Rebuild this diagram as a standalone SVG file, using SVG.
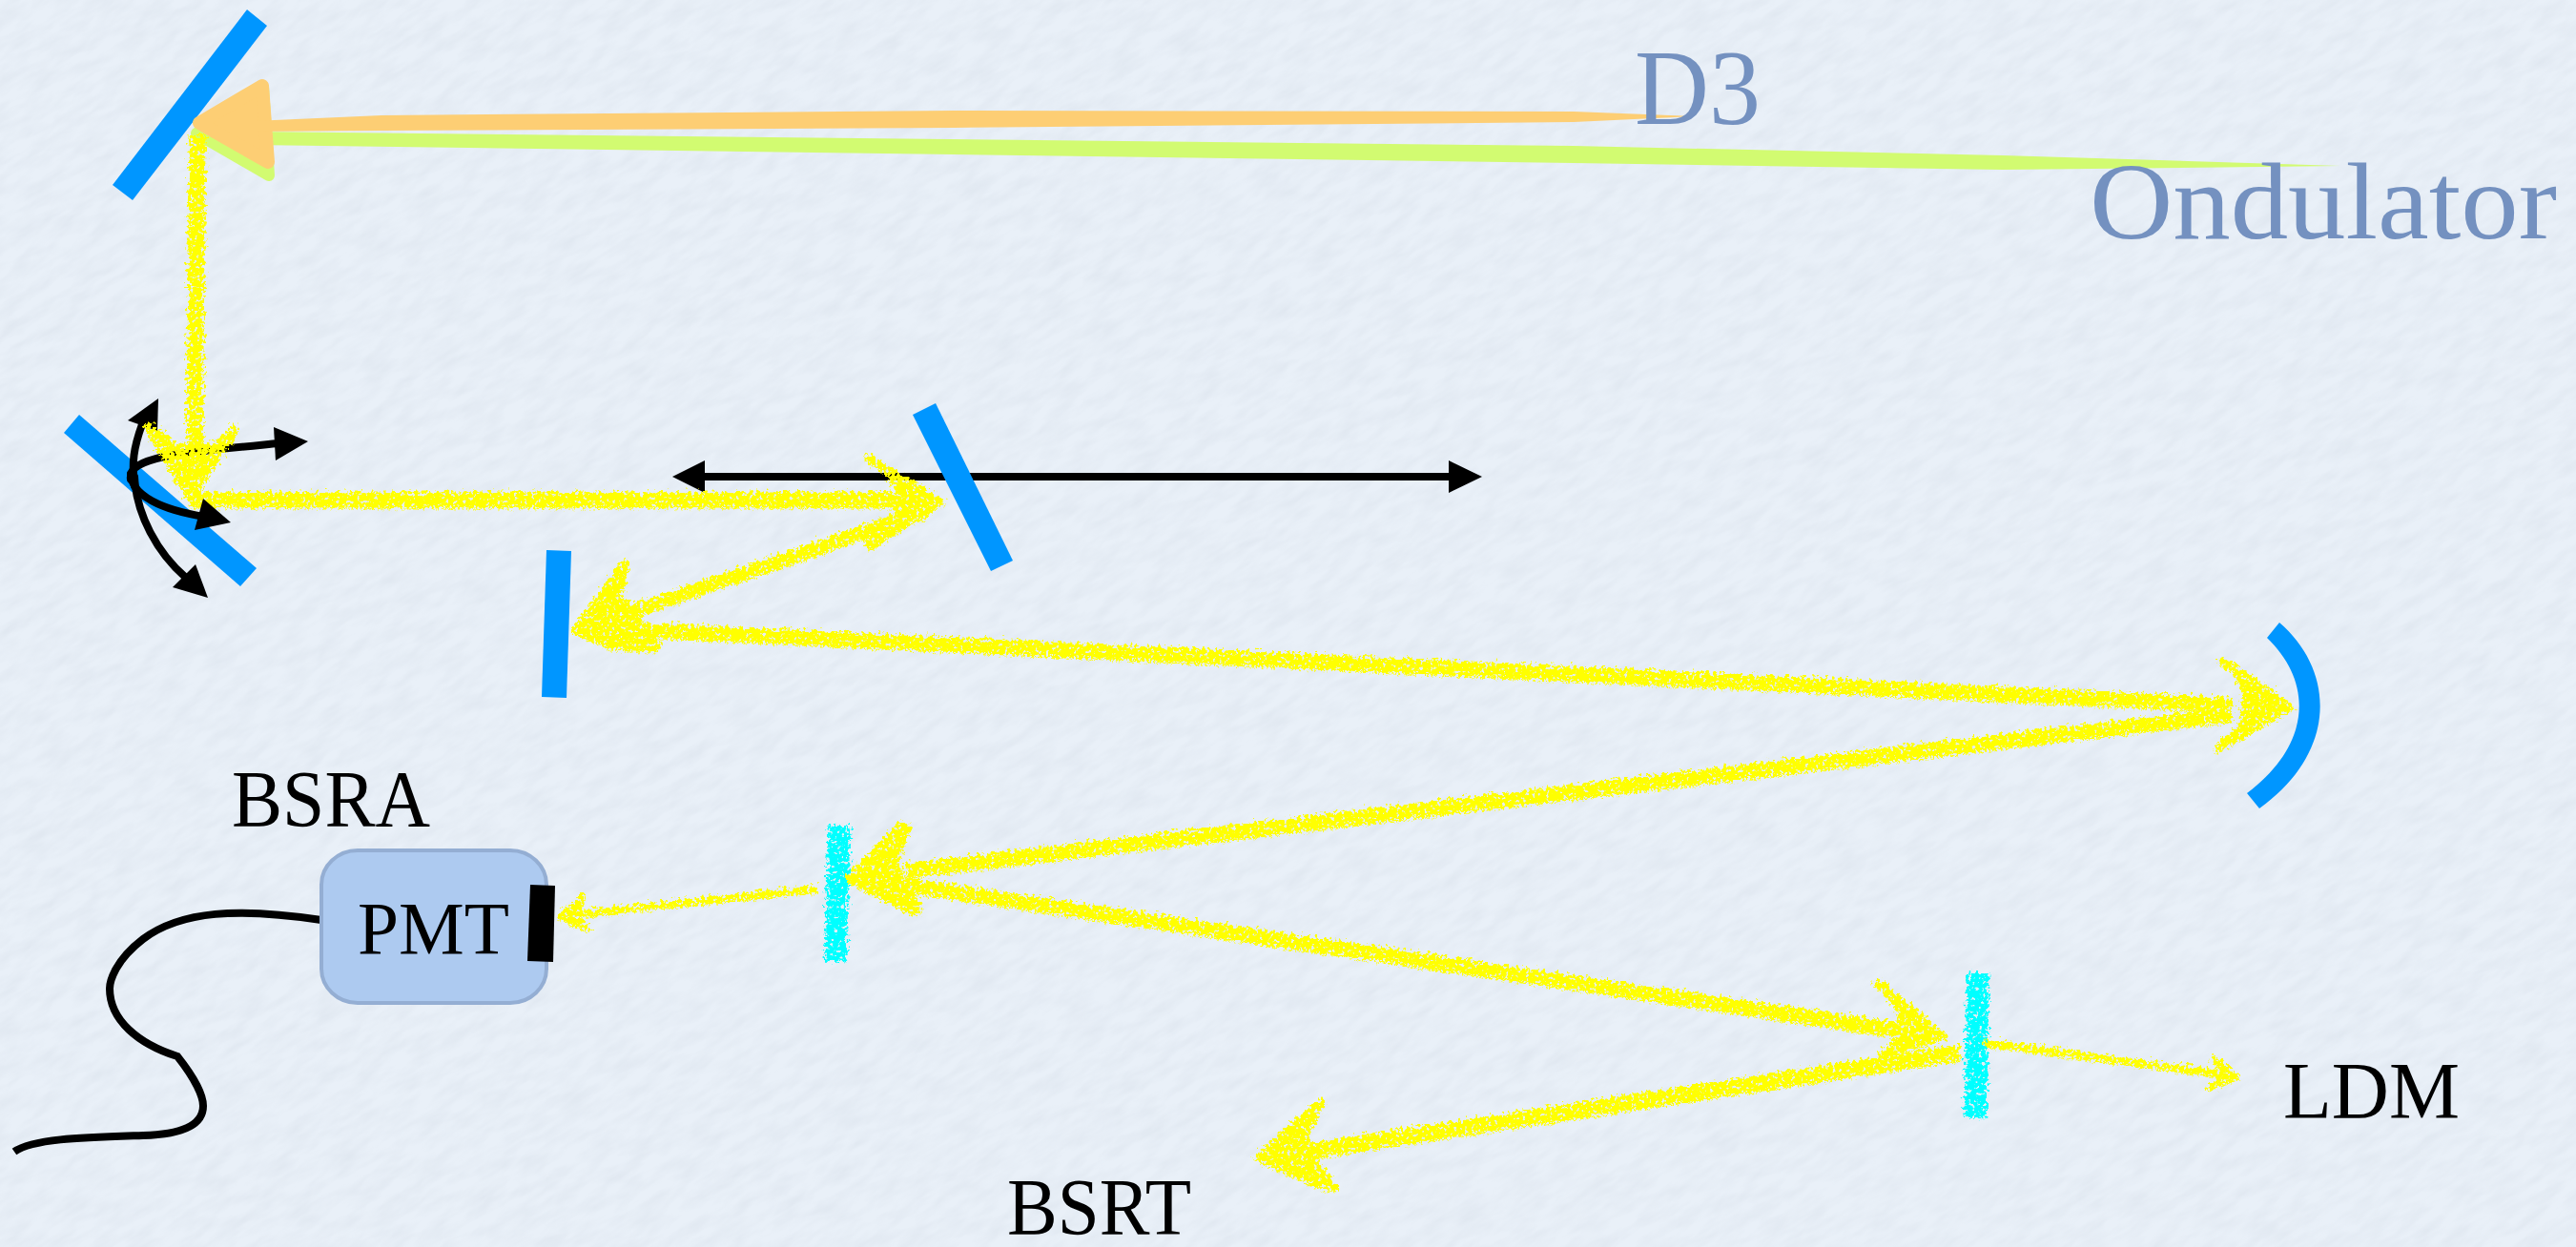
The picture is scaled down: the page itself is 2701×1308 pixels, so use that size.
<svg xmlns="http://www.w3.org/2000/svg" width="2701" height="1308" viewBox="0 0 2701 1308">
<style>
.mirror{fill:#0096ff}
.chalkcyan{stroke:#00ffff;stroke-width:23;fill:none}
.beam{stroke:#ffff00;fill:none;stroke-linecap:butt}
.head{fill:#ffff00;stroke:#ffff00;stroke-width:9;stroke-linejoin:round}
.headthin{fill:#ffff00;stroke:#ffff00;stroke-width:5;stroke-linejoin:round}
.blk{stroke:#000;stroke-width:8;fill:none;stroke-linecap:round}
.blkh{fill:#000}
.lab{font-family:"Liberation Serif","Times New Roman",serif;fill:#000}
.lab2{font-family:"Liberation Serif","Times New Roman",serif;fill:#7491c0}
</style>
<defs>
<filter id="paper" filterUnits="userSpaceOnUse" x="-800" y="-800" width="4400" height="3400" color-interpolation-filters="sRGB">
<feTurbulence type="fractalNoise" baseFrequency="0.03 0.09" numOctaves="3" seed="7"/>
<feColorMatrix type="matrix" values="0 0 0 0 0.62  0 0 0 0 0.66  0 0 0 0 0.72  1.6 0 0 0 -0.55"/>
</filter>
<filter id="chalk" filterUnits="userSpaceOnUse" x="0" y="0" width="2701" height="1308" color-interpolation-filters="sRGB">
<feTurbulence type="fractalNoise" baseFrequency="0.28" numOctaves="2" seed="4" result="n"/>
<feDisplacementMap in="SourceGraphic" in2="n" scale="15" xChannelSelector="R" yChannelSelector="G" result="d"/>
<feColorMatrix in="n" type="matrix" values="0 0 0 0 0  0 0 0 0 0  0 0 0 0 0  0 9 0 0 -2.6" result="m"/>
<feComposite in="d" in2="m" operator="in"/>
</filter>
</defs>
<g id="background">
<rect width="2701" height="1308" fill="#e9f0f8"/>
<g transform="rotate(-32 1350 654)"><rect x="-800" y="-800" width="4400" height="3400" fill="#000" filter="url(#paper)" opacity="0.12"/></g>
</g>
<g id="mirror-1"><polygon class="mirror" points="259,10 280,27 139,210 118,194"/></g>
<g id="mirror-2"><polygon class="mirror" points="83,435 67,454 252,615 269,596"/></g>
<g id="splitter-1" filter="url(#chalk)"><line class="chalkcyan" x1="880" y1="866" x2="876" y2="1009"/></g>
<g id="splitter-2" filter="url(#chalk)"><line class="chalkcyan" x1="2074" y1="1021" x2="2071" y2="1173"/></g>
<g id="connectors">
<polygon fill="#d2fb71" stroke="#d2fb71" stroke-width="12" stroke-linejoin="round" points="206,140 276,92 282,184"/>
<polygon fill="#d2fb71" points="265,138 1650,153 2100,163 2454,174 2100,178 1650,171 265,152"/>
<polygon fill="#fdce74" stroke="#fdce74" stroke-width="14" stroke-linejoin="round" points="209,129 275,90 281,170"/>
<polygon fill="#fdce74" points="265,127 400,121 1000,116 1650,117 1777,122 1650,128 1000,134 400,137 265,138"/>
<g id="double-arrow"><line x1="735" y1="500" x2="1522" y2="500" stroke="#000" stroke-width="8"/><polygon class="blkh" points="705,500 739,483 739,517"/><polygon class="blkh" points="1554,500 1519,483 1519,517"/></g>
<path class="blk" d="M141,510C138,485 140,470 149,445"/><polygon class="blkh" points="166,418 134,441 165,452"/>
<path class="blk" d="M137,503C135,490 150,484 172,479C195,474 240,470 292,465"/><polygon class="blkh" points="323,463 287,448 289,483"/>
<g filter="url(#chalk)">
<line class="beam" stroke-width="17" x1="207" y1="142" x2="204" y2="490"/>
<polygon class="head" points="200,522 156,449 170,458 183,470 226,470 234,462 246,451"/>
<line class="beam" stroke-width="17" x1="200" y1="525" x2="950" y2="525"/>
<polygon class="head" points="985,527 911,482 928,492 942,510 942,542 924,552 912,573"/>
<line class="beam" stroke-width="15" x1="970" y1="537" x2="640" y2="650"/>
<polygon class="head" points="604,662 655,592 651,612 648,632 672,640 664,665 688,676 686,680 645,678"/>
<line class="beam" stroke-width="16" x1="640" y1="660" x2="2340" y2="740"/>
<polygon class="head" points="2401,742 2330,694 2342,702 2356,725 2352,765 2338,775 2326,785"/>
<line class="beam" stroke-width="16" x1="2340" y1="750" x2="950" y2="914"/>
<polygon class="head" points="891,922 946,866 951,868 938,900 948,930 963,954 958,957"/>
<line class="beam" stroke-width="16" x1="950" y1="929" x2="1990" y2="1081"/>
<polygon class="head" points="2036,1087 1969,1032 1974,1034 1994,1062 1990,1095 1974,1106"/>
<line class="beam" stroke-width="17" x1="2055" y1="1105" x2="1360" y2="1210"/>
<polygon class="head" points="1320,1215 1384,1157 1374,1178 1366,1190 1378,1222 1399,1246 1392,1246"/>
<line class="beam" stroke-width="8" x1="2080" y1="1094" x2="2335" y2="1128"/>
<polygon class="headthin" points="2346,1130 2320,1109 2330,1126 2316,1143"/>
<line class="beam" stroke-width="8" x1="857" y1="933" x2="600" y2="960"/>
<polygon class="headthin" points="586,962 612,940 605,958 617,976"/>
</g>
<path class="blk" d="M137,497C138,520 170,535 215,542"/><polygon class="blkh" points="242,548 213,523 204,556"/>
<path class="blk" d="M141,500C143,540 165,580 195,606"/><polygon class="blkh" points="218,627 205,592 181,616"/>
<path d="M337,965C250,952 190,955 150,985C120,1008 115,1030 115,1037C115,1070 145,1095 186,1108C205,1132 213,1150 213,1160C213,1180 190,1190 150,1191C90,1193 35,1194 15,1208" fill="none" stroke="#000" stroke-width="8"/>
</g>
<g id="mirror-3"><polygon class="mirror" points="957,435 981,423 1062,588 1039,599"/></g>
<g id="mirror-4"><polygon class="mirror" points="573,577 599,578 594,732 568,731"/></g>
<g id="curved-mirror"><path class="mirror" d="M2390,653C2450,705 2450,790 2369,848L2356,832C2425,780 2425,715 2377,669Z"/></g>
<g id="pmt">
<rect x="337" y="892" width="236" height="160" rx="38" ry="36" fill="#adcaf0" stroke="#94aed3" stroke-width="4"/>
<text class="lab" x="375" y="1000" font-size="78" textLength="159" lengthAdjust="spacingAndGlyphs">PMT</text>
<polygon fill="#000" points="556,928 582,929 580,1009 553,1008"/>
</g>
<g id="label-bsra"><text class="lab" x="243" y="867" font-size="84" textLength="208" lengthAdjust="spacingAndGlyphs">BSRA</text></g>
<g id="label-ldm"><text class="lab" x="2394" y="1173" font-size="84" textLength="185" lengthAdjust="spacingAndGlyphs">LDM</text></g>
<g id="label-bsrt"><text class="lab" x="1056" y="1295" font-size="84" textLength="193" lengthAdjust="spacingAndGlyphs">BSRT</text></g>
<g id="label-d3"><text class="lab2" x="1714" y="130" font-size="112" textLength="132" lengthAdjust="spacingAndGlyphs">D3</text></g>
<g id="label-ondulator"><text class="lab2" x="2191" y="250" font-size="114" textLength="490" lengthAdjust="spacingAndGlyphs">Ondulator</text></g>
</svg>
